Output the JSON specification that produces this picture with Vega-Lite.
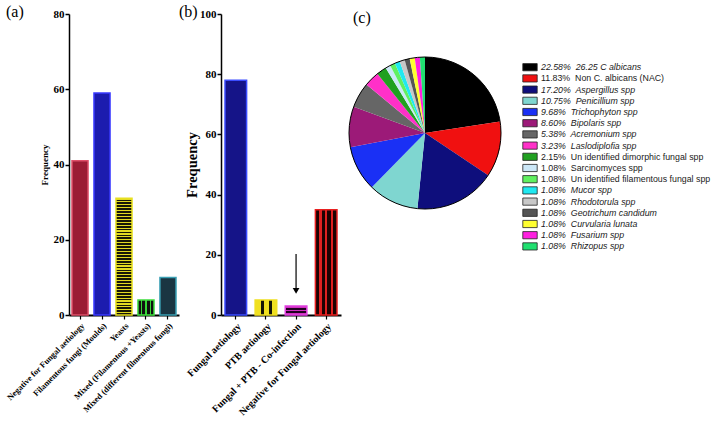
{
  "$schema": "https://vega.github.io/schema/vega-lite/v6.json",
  "background": "white",
  "padding": {"left": 5, "top": 4, "right": 0, "bottom": 0},
  "config": {
    "view": {"stroke": null},
    "font": "Liberation Serif",
    "title": {"font": "Liberation Serif", "fontSize": 16, "fontWeight": "normal", "color": "black", "anchor": "start", "frame": "group", "offset": -12},
    "axis": {"domainColor": "black", "tickColor": "black", "labelColor": "black", "titleColor": "black", "grid": false, "labelFont": "Liberation Serif", "titleFont": "Liberation Serif", "labelFontWeight": "bold", "titleFontWeight": "bold"}
  },
  "spacing": 42,
  "bounds": "flush",
  "hconcat": [
    {
      "width": 110,
      "height": 301,
      "title": {"text": "(a)", "dx": -63},
      "data": {"values": [
        {"category": "Negative for Fungal aetiology", "frequency": 41},
        {"category": "Filamentous fungi (Moulds)", "frequency": 59},
        {"category": "Yeasts", "frequency": 31},
        {"category": "Mixed (Filamentous +Yeasts)", "frequency": 4},
        {"category": "Mixed (different filmentous fungi)", "frequency": 10}
      ]},
      "mark": {"type": "bar", "strokeWidth": 1.5},
      "encoding": {
        "x": {"field": "category", "type": "nominal", "sort": null,
          "scale": {"paddingInner": 0.27, "paddingOuter": 0.136},
          "axis": {"title": null, "labelAngle": -45, "labelFontSize": 8.4, "labelPadding": 2, "labelLimit": 300, "domainWidth": 2, "tickSize": 4, "tickWidth": 1.2}},
        "y": {"field": "frequency", "type": "quantitative", "scale": {"domain": [0, 80]},
          "axis": {"title": "Frequency", "values": [0, 20, 40, 60, 80], "titleFontSize": 9, "titlePadding": 4, "labelFontSize": 11, "labelPadding": 1, "domainWidth": 1.5, "tickSize": 4, "tickWidth": 1.5}},
        "fill": {
          "condition": [
            {"test": "datum.category === 'Filamentous fungi (Moulds)'", "value": "#1c1cae"},
            {"test": "datum.category === 'Yeasts'", "value": {"gradient": "linear", "x1": 0, "y1": 0, "x2": 0, "y2": 1, "stops": [
              {"offset": 0, "color": "#e2da22"}, {"offset": 0.01, "color": "#e2da22"}, {"offset": 0.01, "color": "#181808"}, {"offset": 0.025, "color": "#181808"},
              {"offset": 0.025, "color": "#e2da22"}, {"offset": 0.035, "color": "#e2da22"}, {"offset": 0.035, "color": "#181808"}, {"offset": 0.05, "color": "#181808"},
              {"offset": 0.05, "color": "#e2da22"}, {"offset": 0.06, "color": "#e2da22"}, {"offset": 0.06, "color": "#181808"}, {"offset": 0.075, "color": "#181808"},
              {"offset": 0.075, "color": "#e2da22"}, {"offset": 0.085, "color": "#e2da22"}, {"offset": 0.085, "color": "#181808"}, {"offset": 0.1, "color": "#181808"},
              {"offset": 0.1, "color": "#e2da22"}, {"offset": 0.11, "color": "#e2da22"}, {"offset": 0.11, "color": "#181808"}, {"offset": 0.125, "color": "#181808"},
              {"offset": 0.125, "color": "#e2da22"}, {"offset": 0.135, "color": "#e2da22"}, {"offset": 0.135, "color": "#181808"}, {"offset": 0.15, "color": "#181808"},
              {"offset": 0.15, "color": "#e2da22"}, {"offset": 0.16, "color": "#e2da22"}, {"offset": 0.16, "color": "#181808"}, {"offset": 0.175, "color": "#181808"},
              {"offset": 0.175, "color": "#e2da22"}, {"offset": 0.185, "color": "#e2da22"}, {"offset": 0.185, "color": "#181808"}, {"offset": 0.2, "color": "#181808"},
              {"offset": 0.2, "color": "#e2da22"}, {"offset": 0.21, "color": "#e2da22"}, {"offset": 0.21, "color": "#181808"}, {"offset": 0.225, "color": "#181808"},
              {"offset": 0.225, "color": "#e2da22"}, {"offset": 0.235, "color": "#e2da22"}, {"offset": 0.235, "color": "#181808"}, {"offset": 0.25, "color": "#181808"},
              {"offset": 0.25, "color": "#e2da22"}, {"offset": 0.26, "color": "#e2da22"}, {"offset": 0.26, "color": "#181808"}, {"offset": 0.275, "color": "#181808"},
              {"offset": 0.275, "color": "#e2da22"}, {"offset": 0.285, "color": "#e2da22"}, {"offset": 0.285, "color": "#181808"}, {"offset": 0.3, "color": "#181808"},
              {"offset": 0.3, "color": "#e2da22"}, {"offset": 0.31, "color": "#e2da22"}, {"offset": 0.31, "color": "#181808"}, {"offset": 0.325, "color": "#181808"},
              {"offset": 0.325, "color": "#e2da22"}, {"offset": 0.335, "color": "#e2da22"}, {"offset": 0.335, "color": "#181808"}, {"offset": 0.35, "color": "#181808"},
              {"offset": 0.35, "color": "#e2da22"}, {"offset": 0.36, "color": "#e2da22"}, {"offset": 0.36, "color": "#181808"}, {"offset": 0.375, "color": "#181808"},
              {"offset": 0.375, "color": "#e2da22"}, {"offset": 0.385, "color": "#e2da22"}, {"offset": 0.385, "color": "#181808"}, {"offset": 0.4, "color": "#181808"},
              {"offset": 0.4, "color": "#e2da22"}, {"offset": 0.41, "color": "#e2da22"}, {"offset": 0.41, "color": "#181808"}, {"offset": 0.425, "color": "#181808"},
              {"offset": 0.425, "color": "#e2da22"}, {"offset": 0.435, "color": "#e2da22"}, {"offset": 0.435, "color": "#181808"}, {"offset": 0.45, "color": "#181808"},
              {"offset": 0.45, "color": "#e2da22"}, {"offset": 0.46, "color": "#e2da22"}, {"offset": 0.46, "color": "#181808"}, {"offset": 0.475, "color": "#181808"},
              {"offset": 0.475, "color": "#e2da22"}, {"offset": 0.485, "color": "#e2da22"}, {"offset": 0.485, "color": "#181808"}, {"offset": 0.5, "color": "#181808"},
              {"offset": 0.5, "color": "#e2da22"}, {"offset": 0.51, "color": "#e2da22"}, {"offset": 0.51, "color": "#181808"}, {"offset": 0.525, "color": "#181808"},
              {"offset": 0.525, "color": "#e2da22"}, {"offset": 0.535, "color": "#e2da22"}, {"offset": 0.535, "color": "#181808"}, {"offset": 0.55, "color": "#181808"},
              {"offset": 0.55, "color": "#e2da22"}, {"offset": 0.56, "color": "#e2da22"}, {"offset": 0.56, "color": "#181808"}, {"offset": 0.575, "color": "#181808"},
              {"offset": 0.575, "color": "#e2da22"}, {"offset": 0.585, "color": "#e2da22"}, {"offset": 0.585, "color": "#181808"}, {"offset": 0.6, "color": "#181808"},
              {"offset": 0.6, "color": "#e2da22"}, {"offset": 0.61, "color": "#e2da22"}, {"offset": 0.61, "color": "#181808"}, {"offset": 0.625, "color": "#181808"},
              {"offset": 0.625, "color": "#e2da22"}, {"offset": 0.635, "color": "#e2da22"}, {"offset": 0.635, "color": "#181808"}, {"offset": 0.65, "color": "#181808"},
              {"offset": 0.65, "color": "#e2da22"}, {"offset": 0.66, "color": "#e2da22"}, {"offset": 0.66, "color": "#181808"}, {"offset": 0.675, "color": "#181808"},
              {"offset": 0.675, "color": "#e2da22"}, {"offset": 0.685, "color": "#e2da22"}, {"offset": 0.685, "color": "#181808"}, {"offset": 0.7, "color": "#181808"},
              {"offset": 0.7, "color": "#e2da22"}, {"offset": 0.71, "color": "#e2da22"}, {"offset": 0.71, "color": "#181808"}, {"offset": 0.725, "color": "#181808"},
              {"offset": 0.725, "color": "#e2da22"}, {"offset": 0.735, "color": "#e2da22"}, {"offset": 0.735, "color": "#181808"}, {"offset": 0.75, "color": "#181808"},
              {"offset": 0.75, "color": "#e2da22"}, {"offset": 0.76, "color": "#e2da22"}, {"offset": 0.76, "color": "#181808"}, {"offset": 0.775, "color": "#181808"},
              {"offset": 0.775, "color": "#e2da22"}, {"offset": 0.785, "color": "#e2da22"}, {"offset": 0.785, "color": "#181808"}, {"offset": 0.8, "color": "#181808"},
              {"offset": 0.8, "color": "#e2da22"}, {"offset": 0.81, "color": "#e2da22"}, {"offset": 0.81, "color": "#181808"}, {"offset": 0.825, "color": "#181808"},
              {"offset": 0.825, "color": "#e2da22"}, {"offset": 0.835, "color": "#e2da22"}, {"offset": 0.835, "color": "#181808"}, {"offset": 0.85, "color": "#181808"},
              {"offset": 0.85, "color": "#e2da22"}, {"offset": 0.86, "color": "#e2da22"}, {"offset": 0.86, "color": "#181808"}, {"offset": 0.875, "color": "#181808"},
              {"offset": 0.875, "color": "#e2da22"}, {"offset": 0.885, "color": "#e2da22"}, {"offset": 0.885, "color": "#181808"}, {"offset": 0.9, "color": "#181808"},
              {"offset": 0.9, "color": "#e2da22"}, {"offset": 0.91, "color": "#e2da22"}, {"offset": 0.91, "color": "#181808"}, {"offset": 0.925, "color": "#181808"},
              {"offset": 0.925, "color": "#e2da22"}, {"offset": 0.935, "color": "#e2da22"}, {"offset": 0.935, "color": "#181808"}, {"offset": 0.95, "color": "#181808"},
              {"offset": 0.95, "color": "#e2da22"}, {"offset": 0.96, "color": "#e2da22"}, {"offset": 0.96, "color": "#181808"}, {"offset": 0.975, "color": "#181808"},
              {"offset": 0.975, "color": "#e2da22"}, {"offset": 0.985, "color": "#e2da22"}, {"offset": 0.985, "color": "#181808"}, {"offset": 1, "color": "#181808"}
            ]}},
            {"test": "datum.category === 'Mixed (Filamentous +Yeasts)'", "value": {"gradient": "linear", "x1": 0, "y1": 0, "x2": 1, "y2": 0, "stops": [
              {"offset": 0, "color": "#101010"}, {"offset": 0.2, "color": "#101010"}, {"offset": 0.2, "color": "#36d636"}, {"offset": 0.28, "color": "#36d636"},
              {"offset": 0.28, "color": "#101010"}, {"offset": 0.46, "color": "#101010"}, {"offset": 0.46, "color": "#36d636"}, {"offset": 0.54, "color": "#36d636"},
              {"offset": 0.54, "color": "#101010"}, {"offset": 0.72, "color": "#101010"}, {"offset": 0.72, "color": "#36d636"}, {"offset": 0.8, "color": "#36d636"},
              {"offset": 0.8, "color": "#101010"}, {"offset": 1, "color": "#101010"}
            ]}},
            {"test": "datum.category === 'Mixed (different filmentous fungi)'", "value": "#1a3542"}
          ],
          "value": "#9b1c34"
        },
        "stroke": {
          "condition": [
            {"test": "datum.category === 'Filamentous fungi (Moulds)'", "value": "#3a3aff"},
            {"test": "datum.category === 'Yeasts'", "value": "#e8e020"},
            {"test": "datum.category === 'Mixed (Filamentous +Yeasts)'", "value": "#40e040"},
            {"test": "datum.category === 'Mixed (different filmentous fungi)'", "value": "#3aa0b4"}
          ],
          "value": "#e0506a"
        }
      }
    },
    {
      "spacing": 8,
      "bounds": "flush",
      "hconcat": [
        {
          "width": 120,
          "height": 301,
          "title": {"text": "(b)", "dx": -42},
          "data": {"values": [
            {"category": "Fungal aetiology", "frequency": 78},
            {"category": "PTB aetiology", "frequency": 5},
            {"category": "Fungal + PTB - Co-infection", "frequency": 3, "arrow_from": 20.3, "arrow_to": 8},
            {"category": "Negative for Fungal aetiology", "frequency": 35}
          ]},
          "encoding": {
            "x": {"field": "category", "type": "nominal",
              "sort": ["Fungal aetiology", "PTB aetiology", "Fungal + PTB - Co-infection", "Negative for Fungal aetiology"],
              "scale": {"paddingInner": 0.283, "paddingOuter": 0.133},
              "axis": {"title": null, "labelAngle": -45, "labelFontSize": 10, "labelPadding": 2, "labelLimit": 300, "domainWidth": 2, "tickSize": 4, "tickWidth": 1.2}}
          },
          "layer": [
            {
              "mark": {"type": "bar", "strokeWidth": 1.5},
              "encoding": {
                "y": {"field": "frequency", "type": "quantitative", "scale": {"domain": [0, 100]},
                  "axis": {"title": "Frequency", "values": [0, 20, 40, 60, 80, 100], "titleFontSize": 14.5, "titlePadding": 0, "labelFontSize": 11, "labelPadding": 1, "domainWidth": 1.5, "tickSize": 4, "tickWidth": 1.5}},
                "fill": {
                  "condition": [
                    {"test": "datum.category === 'PTB aetiology'", "value": {"gradient": "linear", "x1": 0, "y1": 0, "x2": 1, "y2": 0, "stops": [
                      {"offset": 0, "color": "#f0e020"}, {"offset": 0.25, "color": "#f0e020"}, {"offset": 0.25, "color": "#151505"}, {"offset": 0.42, "color": "#151505"},
                      {"offset": 0.42, "color": "#f0e020"}, {"offset": 0.62, "color": "#f0e020"}, {"offset": 0.62, "color": "#151505"}, {"offset": 0.78, "color": "#151505"},
                      {"offset": 0.78, "color": "#f0e020"}, {"offset": 1, "color": "#f0e020"}
                    ]}},
                    {"test": "datum.category === 'Fungal + PTB - Co-infection'", "value": {"gradient": "linear", "x1": 0, "y1": 0, "x2": 0, "y2": 1, "stops": [
                      {"offset": 0, "color": "#d030c0"}, {"offset": 0.22, "color": "#d030c0"}, {"offset": 0.22, "color": "#200020"}, {"offset": 0.4, "color": "#200020"},
                      {"offset": 0.4, "color": "#d030c0"}, {"offset": 0.6, "color": "#d030c0"}, {"offset": 0.6, "color": "#200020"}, {"offset": 0.78, "color": "#200020"},
                      {"offset": 0.78, "color": "#d030c0"}, {"offset": 1, "color": "#d030c0"}
                    ]}},
                    {"test": "datum.category === 'Negative for Fungal aetiology'", "value": {"gradient": "linear", "x1": 0, "y1": 0, "x2": 1, "y2": 0, "stops": [
                      {"offset": 0, "color": "#1e0202"}, {"offset": 0.17, "color": "#1e0202"}, {"offset": 0.17, "color": "#e02020"}, {"offset": 0.3, "color": "#e02020"},
                      {"offset": 0.3, "color": "#1e0202"}, {"offset": 0.45, "color": "#1e0202"}, {"offset": 0.45, "color": "#e02020"}, {"offset": 0.56, "color": "#e02020"},
                      {"offset": 0.56, "color": "#1e0202"}, {"offset": 0.71, "color": "#1e0202"}, {"offset": 0.71, "color": "#e02020"}, {"offset": 0.83, "color": "#e02020"},
                      {"offset": 0.83, "color": "#1e0202"}, {"offset": 1, "color": "#1e0202"}
                    ]}}
                  ],
                  "value": "#151488"
                },
                "stroke": {
                  "condition": [
                    {"test": "datum.category === 'PTB aetiology'", "value": "#f0e020"},
                    {"test": "datum.category === 'Fungal + PTB - Co-infection'", "value": "#e040e0"},
                    {"test": "datum.category === 'Negative for Fungal aetiology'", "value": "#e82020"}
                  ],
                  "value": "#3a4cff"
                }
              }
            },
            {
              "transform": [{"filter": "isValid(datum.arrow_from)"}],
              "mark": {"type": "rule", "color": "black", "strokeWidth": 1.2},
              "encoding": {
                "y": {"field": "arrow_from", "type": "quantitative"},
                "y2": {"field": "arrow_to"}
              }
            },
            {
              "transform": [{"filter": "isValid(datum.arrow_from)"}],
              "mark": {"type": "point", "shape": "triangle-down", "filled": true, "color": "black", "size": 45, "opacity": 1},
              "encoding": {
                "y": {"field": "arrow_to", "type": "quantitative"}
              }
            }
          ]
        },
        {
          "width": 152,
          "height": 238,
          "title": {"text": "(c)", "dx": 4},
          "data": {"values": [
            {"rank": 1, "label": "22.58%\u00a0 26.25 C albicans", "pct": 22.58},
            {"rank": 2, "label": "11.83%\u00a0 Non C. albicans (NAC)", "pct": 11.83},
            {"rank": 3, "label": "17.20%\u00a0 Aspergillus spp", "pct": 17.20},
            {"rank": 4, "label": "10.75%\u00a0 Penicillium spp", "pct": 10.75},
            {"rank": 5, "label": "9.68%\u00a0 Trichophyton spp", "pct": 9.68},
            {"rank": 6, "label": "8.60%\u00a0 Bipolaris spp", "pct": 8.60},
            {"rank": 7, "label": "5.38%\u00a0 Acremonium spp", "pct": 5.38},
            {"rank": 8, "label": "3.23%\u00a0 Laslodiplofia spp", "pct": 3.23},
            {"rank": 9, "label": "2.15%\u00a0 Un identified dimorphic fungal spp", "pct": 2.15},
            {"rank": 10, "label": "1.08%\u00a0 Sarcinomyces spp", "pct": 1.08},
            {"rank": 11, "label": "1.08%\u00a0 Un identified filamentous fungal spp", "pct": 1.08},
            {"rank": 12, "label": "1.08%\u00a0 Mucor spp", "pct": 1.08},
            {"rank": 13, "label": "1.08%\u00a0 Rhodotorula spp", "pct": 1.08},
            {"rank": 14, "label": "1.08%\u00a0 Geotrichum candidum", "pct": 1.08},
            {"rank": 15, "label": "1.08%\u00a0 Curvularia lunata", "pct": 1.08},
            {"rank": 16, "label": "1.08%\u00a0 Fusarium spp", "pct": 1.08},
            {"rank": 17, "label": "1.08%\u00a0 Rhizopus spp", "pct": 1.08}
          ]},
          "layer": [
            {
              "mark": {"type": "arc"},
              "encoding": {
                "theta": {"field": "pct", "type": "quantitative", "stack": true},
                "order": {"field": "rank", "type": "quantitative"},
                "color": {"field": "label", "type": "nominal", "sort": null,
                  "scale": {"range": ["#000000", "#f01010", "#0e0e7c", "#7fd6d0", "#1a30f5", "#9c1a78", "#666666", "#ff30c8", "#20a020", "#cce8f8", "#60f060", "#20e8f0", "#c8c8c8", "#555555", "#ffff30", "#ff20e0", "#20e070"]},
                  "legend": {
                    "orient": "none", "legendX": 456, "legendY": 48.2, "title": null, "padding": 0,
                    "symbolType": "M-1.6,-0.8H1.6V0.8H-1.6Z", "symbolSize": 81,
                    "symbolStrokeColor": "#222222", "symbolStrokeWidth": 0.8,
                    "labelFont": "Liberation Sans", "labelFontSize": 8.8, "labelColor": "#1a1a1a",
                    "labelOffset": 6, "rowPadding": -0.8, "labelLimit": 300,
                    "encode": {"labels": {"update": {"fontStyle": {"signal": "indexof(datum.label, 'Non C.') >= 0 || indexof(datum.label, 'Un identified') >= 0 || indexof(datum.label, 'Sarcinomyces') >= 0 ? 'normal' : 'italic'"}}}}
                  }
                }
              }
            },
            {
              "transform": [{"aggregate": [{"op": "sum", "field": "pct", "as": "total"}]}],
              "mark": {"type": "arc", "fillOpacity": 0, "stroke": "black", "strokeWidth": 1},
              "encoding": {
                "theta": {"field": "total", "type": "quantitative"}
              }
            }
          ],
          "resolve": {"scale": {"theta": "independent"}}
        }
      ]
    }
  ]
}
